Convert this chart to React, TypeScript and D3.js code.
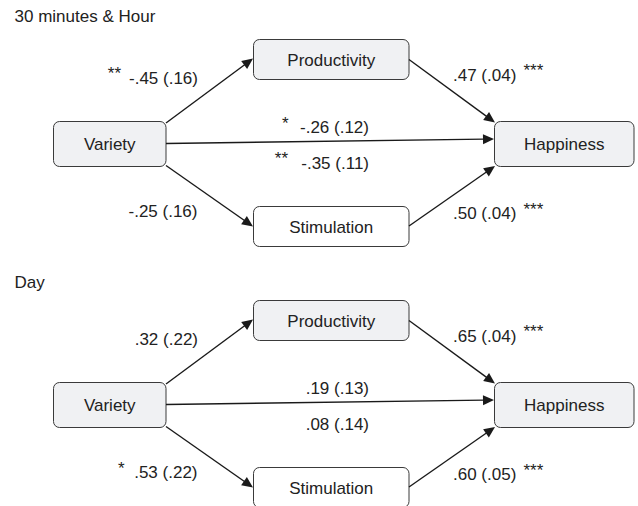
import React, { useEffect } from "react";
import * as d3 from "d3";

// ---------- data ----------
const panelTitles = ["30 minutes & Hour", "Day"];
const nodeNames = ["Variety", "Productivity", "Stimulation", "Happiness"];
// paths: V->P, V->S, P->H, S->H, V->H direct (c'), V->H total (c)
const pathFrom = ["Variety", "Variety", "Productivity", "Stimulation", "Variety", "Variety"];
const pathTo = ["Productivity", "Stimulation", "Happiness", "Happiness", "Happiness", "Happiness"];
const coefHour = ["-.45", "-.25", ".47", ".50", "-.26", "-.35"];
const seHour = [".16", ".16", ".04", ".04", ".12", ".11"];
const starsHour = ["**", "", "***", "***", "*", "**"];
const coefDay = [".32", ".53", ".65", ".60", ".19", ".08"];
const seDay = [".22", ".22", ".04", ".05", ".13", ".14"];
const starsDay = ["", "*", "***", "***", "", ""];

// ---------- layout ----------
const W = 638;
const H = 506;
const FONT = "'Liberation Sans', Arial, Helvetica, sans-serif";
const panelOffsets = [0, 261];
const titleBaselines = [22, 288];

const nodeBoxes: Record<string, { x: number; y: number; w: number; h: number; fill: string }> = {
  Variety: { x: 53.5, y: 121.5, w: 112.5, h: 45, fill: "#f0f1f3" },
  Productivity: { x: 253.5, y: 39.5, w: 155.5, h: 40, fill: "#f0f1f3" },
  Stimulation: { x: 253.5, y: 206.5, w: 155.5, h: 40, fill: "#ffffff" },
  Happiness: { x: 494.5, y: 121.5, w: 139.5, h: 45, fill: "#f0f1f3" },
};

// arrow endpoints (relative to panel origin), one per path index
const edgeGeom = [
  { x1: 166, y1: 123, x2: 253, y2: 58.5 },
  { x1: 166, y1: 165.5, x2: 253, y2: 226.5 },
  { x1: 409, y1: 59.5, x2: 495, y2: 122.5 },
  { x1: 409, y1: 226, x2: 495, y2: 166 },
  { x1: 166, y1: 143.5, x2: 494, y2: 139 },
];

// label layout per path index
const labelGeom = [
  { anchor: "end", x: 198, y: 83.5, starSide: "before", starX: 121 },
  { anchor: "end", x: 197.5, y: 217, starSide: "before", starX: 124.5 },
  { anchor: "start", x: 453, y: 80.5, starSide: "after", starX: 523.5 },
  { anchor: "start", x: 453, y: 219, starSide: "after", starX: 523.5 },
  { anchor: "end", x: 369, y: 133, starSide: "before", starX: 288.5 },
  { anchor: "end", x: 369, y: 168.5, starSide: "before", starX: 288 },
];

const panels = [
  { title: panelTitles[0], coef: coefHour, se: seHour, stars: starsHour },
  { title: panelTitles[1], coef: coefDay, se: seDay, stars: starsDay },
];

const lineGen = d3.line<[number, number]>();

function Arrow({ x1, y1, x2, y2 }: { x1: number; y1: number; x2: number; y2: number }) {
  const len = 11;
  const half = 5;
  const ang = Math.atan2(y2 - y1, x2 - x1);
  const bx = x2 - len * Math.cos(ang);
  const by = y2 - len * Math.sin(ang);
  const px = -Math.sin(ang);
  const py = Math.cos(ang);
  const head: [number, number][] = [
    [x2, y2],
    [bx + half * px, by + half * py],
    [bx - half * px, by - half * py],
  ];
  return (
    <g>
      <path d={lineGen([[x1, y1], [bx + 1 * Math.cos(ang), by + 1 * Math.sin(ang)]]) || ""} stroke="#1a1a1a" strokeWidth={1.4} fill="none" />
      <path d={(lineGen(head) || "") + "Z"} fill="#1a1a1a" stroke="none" />
    </g>
  );
}

export default function App() {
  useEffect(() => {
    document.body.style.margin = "0";
  }, []);
  return (
    <svg width={W} height={H} viewBox={`0 0 ${W} ${H}`} style={{ display: "block", background: "#fff" }} fontFamily={FONT}>
      {panels.map((p, pi) => {
        const oy = panelOffsets[pi];
        return (
          <g key={pi}>
            <text x={14.5} y={titleBaselines[pi]} fontSize={17} fill="#222">
              {p.title}
            </text>
            <g transform={`translate(0,${oy})`}>
              {nodeNames.map((n) => {
                const b = nodeBoxes[n];
                return (
                  <g key={n}>
                    <rect x={b.x} y={b.y} width={b.w} height={b.h} rx={6} ry={6} fill={b.fill} stroke="#3a3a3a" strokeWidth={1} />
                    <text x={b.x + b.w / 2} y={b.y + b.h / 2 + 6} textAnchor="middle" fontSize={17} fill="#222">
                      {n}
                    </text>
                  </g>
                );
              })}
              {pathFrom.slice(0, 5).map((f, i) => (
                <Arrow key={f + pathTo[i] + i} {...edgeGeom[i]} />
              ))}
              {p.coef.map((c, i) => {
                const g = labelGeom[i];
                const s = p.stars[i];
                return (
                  <g key={"l" + i}>
                    <text x={g.x} y={g.y} textAnchor={g.anchor as any} fontSize={17} fill="#222">
                      {`${c} (${p.se[i]})`}
                    </text>
                    {s && (
                      <text
                        x={g.starX}
                        y={g.y - 4.5}
                        textAnchor={g.starSide === "before" ? "end" : "start"}
                        fontSize={17}
                        fill="#222"
                      >
                        {s}
                      </text>
                    )}
                  </g>
                );
              })}
            </g>
          </g>
        );
      })}
    </svg>
  );
}
